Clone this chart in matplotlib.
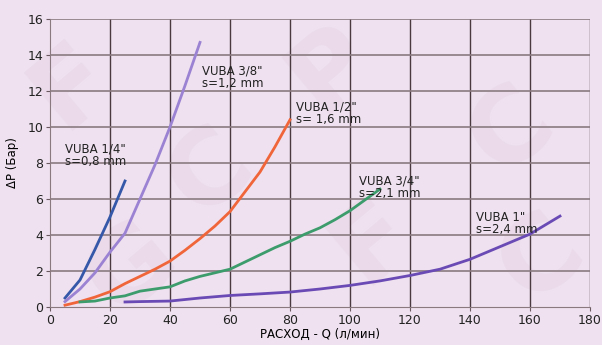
import matplotlib.pyplot as plt

# flow Q (l/min) vs pressure drop dP (bar) for each VUBA size
q_14 = [5, 10, 15, 20, 25]
dp_14 = [0.5, 1.5, 3.2, 5.0, 7.0]

q_38 = [5, 10, 15, 20, 25, 30, 35, 40, 45, 50]
dp_38 = [0.3, 1.0, 1.9, 3.05, 4.1, 6.0, 7.9, 10.0, 12.3, 14.7]

q_12 = [5, 10, 15, 20, 25, 30, 35, 40, 45, 50, 55, 60, 65, 70, 75, 80]
dp_12 = [0.1, 0.3, 0.55, 0.85, 1.3, 1.7, 2.1, 2.55, 3.15, 3.8, 4.5, 5.3, 6.4, 7.5, 8.9, 10.4]

q_34 = [10, 15, 20, 25, 30, 35, 40, 45, 50, 55, 60, 65, 70, 75, 80, 85, 90, 95, 100, 105, 110]
dp_34 = [0.28, 0.33, 0.5, 0.62, 0.88, 1.0, 1.12, 1.45, 1.7, 1.9, 2.1, 2.5, 2.9, 3.3,
         3.65, 4.05, 4.4, 4.85, 5.35, 5.95, 6.55]

q_1 = [25, 30, 40, 50, 60, 70, 80, 90, 100, 110, 120, 130, 140, 150, 160, 170]
dp_1 = [0.28, 0.3, 0.33, 0.5, 0.64, 0.73, 0.83, 1.0, 1.2, 1.45, 1.75, 2.1, 2.65, 3.35, 4.05, 5.05]

x_ticks = [0, 20, 40, 60, 80, 100, 120, 140, 160, 180]
y_ticks = [0, 2, 4, 6, 8, 10, 12, 14, 16]

bg = '#efe1ef'
plt.rcParams['font.family'] = ['DejaVu Sans']

fig = plt.figure(figsize=(6.02, 3.45), dpi=100, facecolor=bg)
ax = fig.add_axes([50 / 602, 38 / 345, 540 / 602, 288 / 345])
ax.set_facecolor('none')

# faint watermark letters in the background
wm = '#eadaea'
for (x, y, s) in [(0.12, 0.75, 'F'), (0.35, 0.5, 'C'), (0.55, 0.8, 'P'),
                  (0.85, 0.62, 'C'), (0.22, 0.22, 'G'), (0.62, 0.3, 'F'),
                  (0.9, 0.25, 'C')]:
    fig.text(x, y, s, fontsize=75, color=wm, rotation=40, ha='center', va='center',
             zorder=-5, fontweight='bold')

ax.plot(q_14, dp_14, color='#3558a8', lw=2)
ax.plot(q_38, dp_38, color='#9b82d2', lw=2)
ax.plot(q_12, dp_12, color='#f0663a', lw=2)
ax.plot(q_34, dp_34, color='#3d9c6c', lw=2)
ax.plot(q_1, dp_1, color='#6a4ab4', lw=2)

ax.set_xlim(0, 180)
ax.set_ylim(0, 16)
ax.set_xticks(x_ticks)
ax.set_yticks(y_ticks)
ax.tick_params(labelsize=9, length=3, color='#6a5a60', labelcolor='#222222', pad=2)
for x in x_ticks[1:]:
    ax.axvline(x, color='#4a3a40', lw=1, zorder=0)
for y in y_ticks[1:]:
    ax.axhline(y, color='#8a7a80', lw=1.2, zorder=0)
for s in ax.spines.values():
    s.set_visible(False)
ax.spines['left'].set_visible(True)
ax.spines['bottom'].set_visible(True)
ax.spines['left'].set_color('#8a7a80')
ax.spines['bottom'].set_color('#8a7a80')

ax.set_xlabel('РАСХОД - Q (л/мин)', fontsize=8.5, labelpad=1)
ax.set_ylabel('ΔP (Бар)', fontsize=8.5, labelpad=6)

lab = dict(fontsize=8.5, color='#222222', linespacing=0.95)
ax.text(5, 7.9, 'VUBA 1/4"\ns=0,8 mm', **lab)
ax.text(50.5, 12.2, 'VUBA 3/8"\ns=1,2 mm', **lab)
ax.text(82, 10.2, 'VUBA 1/2"\ns= 1,6 mm', **lab)
ax.text(103, 6.1, 'VUBA 3/4"\ns=2,1 mm', **lab)
ax.text(142, 4.1, 'VUBA 1"\ns=2,4 mm', **lab)

fig.savefig('out.png', dpi=100, facecolor=bg)
